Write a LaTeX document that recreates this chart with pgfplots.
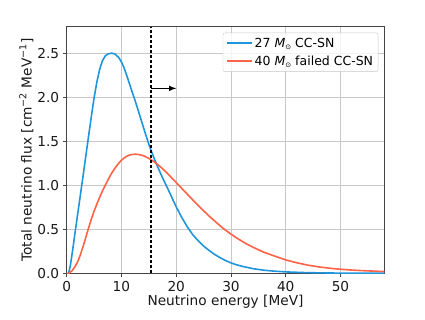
\documentclass[border=0pt]{standalone}
\usepackage{fontspec}
\setmainfont{DejaVu Sans}
\usepackage{pgfplots}
\pgfplotsset{compat=1.18}
\definecolor{cblue}{HTML}{1F96DC}
\definecolor{cred}{HTML}{FF6347}
\definecolor{gridgray}{HTML}{C8C8C8}
\definecolor{axgray}{HTML}{444444}
\newcommand{\Msun}{\textit{M}\raisebox{-0.35ex}{\scriptsize ⊙}}
\begin{document}
\begin{tikzpicture}
\begin{axis}[
  scale only axis,
  width=317.6pt, height=246.6pt,
  xmin=0, xmax=58, ymin=0, ymax=2.8,
  xtick={0,10,20,30,40,50},
  ytick={0,0.5,1,1.5,2,2.5},
  yticklabel style={/pgf/number format/.cd, fixed, fixed zerofill, precision=1},
  /pgf/number format/assume math mode=true,
  tick label style={font=\fontsize{13.7}{15}\selectfont, text=black!90},
  label style={font=\fontsize{13.7}{15}\selectfont, text=black!90},
  xlabel={Neutrino energy [MeV]},
  ylabel={Total neutrino flux [cm\textsuperscript{−2} MeV\textsuperscript{−1}]},
  xlabel style={yshift=3pt},
  ylabel style={yshift=-3pt},
  grid=major,
  major grid style={gridgray, line width=0.8pt},
  axis line style={axgray, line width=0.8pt},
  tick style={axgray, line width=0.8pt},
  tick align=outside,
  major tick length=4pt,
  xtick pos=bottom, ytick pos=left,
  legend style={at={(1,1)}, anchor=north east, xshift=-6pt, yshift=-6pt,
    draw=gridgray, rounded corners=2pt, fill=white, fill opacity=0.8, text opacity=1, draw opacity=1,
    font=\fontsize{12.5}{14}\selectfont, row sep=3pt, inner xsep=3pt, inner ysep=3pt},
  legend cell align=left,
  legend image code/.code={\draw[#1, line width=1.7pt, opacity=1] (0pt,0pt) -- (25pt,0pt);},
]
\addplot[cblue, line width=1.6pt, line join=round] coordinates {
(0,0) (0.36,0) (0.7,0.1) (1.09,0.265) (1.5,0.45) (2,0.67) (2.5,0.89) (3,1.11) (3.5,1.335) (4,1.56) (4.5,1.78) (5,1.99) (5.5,2.17) (6,2.31) (6.5,2.41) (7,2.465) (7.5,2.49) (8.2,2.5) (8.8,2.49) (9.5,2.45) (10,2.40) (10.5,2.33) (11,2.24) (11.5,2.145) (12,2.05) (12.5,1.96) (13,1.86) (13.5,1.76) (14,1.66) (14.5,1.56) (15,1.465) (15.5,1.38) (16,1.30) (16.5,1.225) (17,1.155) (17.5,1.085) (18,1.02) (18.5,0.955) (19,0.89) (19.5,0.82) (20,0.755) (21,0.635) (22,0.53) (23,0.44) (24,0.37) (25,0.31) (26,0.26) (27,0.215) (28,0.178) (29,0.145) (30,0.118) (31,0.097) (32,0.08) (34,0.053) (36,0.035) (38,0.024) (40,0.016) (43,0.009) (46,0.005) (50,0.002) (54,0.001) (58,0.0005)
};
\addlegendentry{27 \Msun\ CC-SN}
\addplot[cred, line width=1.6pt, line join=round] coordinates {
(0,0) (0.36,0) (1,0.03) (1.5,0.075) (2,0.13) (2.5,0.21) (3,0.305) (3.5,0.41) (4,0.515) (4.5,0.615) (5,0.705) (5.5,0.785) (6,0.86) (6.5,0.93) (7,0.995) (7.5,1.055) (8,1.115) (8.5,1.165) (9,1.21) (9.5,1.25) (10,1.285) (10.5,1.31) (11,1.33) (11.5,1.343) (12,1.35) (12.5,1.352) (13,1.35) (13.5,1.344) (14,1.335) (14.5,1.321) (15,1.305) (15.5,1.285) (16,1.265) (17,1.215) (18,1.16) (19,1.095) (20,1.03) (21,0.965) (22,0.90) (23,0.835) (24,0.77) (25,0.71) (26,0.65) (27,0.595) (28,0.54) (29,0.49) (30,0.445) (31,0.403) (32,0.365) (33,0.328) (34,0.297) (35,0.268) (36,0.24) (38,0.195) (40,0.152) (42,0.12) (44,0.093) (46,0.073) (48,0.058) (50,0.046) (52,0.037) (54,0.03) (56,0.025) (58,0.02)
};
\addlegendentry{40 \Msun\ failed CC-SN}
\addplot[black, line width=1.9pt, dash pattern=on 3pt off 2pt, forget plot] coordinates {(15.45,0) (15.45,2.8)};
\addplot[black, line width=1.4pt, -latex, forget plot] coordinates {(15.45,2.1) (20,2.1)};
\node[anchor=south west, inner sep=0pt, font=\fontsize{13.7}{15}\selectfont, text=black!90] at (axis description cs:0,1.015) {1e10};
\end{axis}
\path ([shift={(-66.7pt,-45.7pt)}]current axis.south west) rectangle ([shift={(40.7pt,26.7pt)}]current axis.north east);
\end{tikzpicture}
\end{document}
